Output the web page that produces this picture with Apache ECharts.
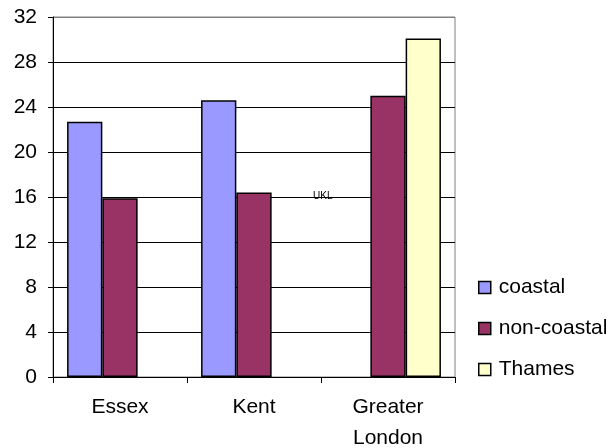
<!DOCTYPE html>
<html><head><meta charset="utf-8">
<script src="https://cdn.jsdelivr.net/npm/echarts@6/dist/echarts.min.js"></script>
<style>html,body{margin:0;padding:0;background:#fff}#c{width:614px;height:448px}</style>
</head><body><div id="c"></div>
<script>
const categories = ['Essex', 'Kent', 'Greater\nLondon'];
const coastal = [22.7, 24.6, null];
const nonCoastal = [15.9, 16.4, 25.0];
const thames = [null, null, 30.1];
const yTicks = [0, 4, 8, 12, 16, 20, 24, 28, 32];
const seriesNames = ['coastal', 'non-coastal', 'Thames'];
const noteText = 'UKL';

const chart = echarts.init(document.getElementById('c'), null, {renderer: 'canvas'});
const font = 'Liberation Sans, Arial, sans-serif';
const barStyle = c => ({color: c, borderColor: '#000', borderWidth: 1.5});
const splitColors = yTicks.map((v, i) => i === yTicks.length - 1 ? '#808080' : '#000');
chart.setOption({
  animation: false,
  backgroundColor: '#fff',
  grid: {left: 53, right: 159, top: 17, bottom: 71, show: true, borderColor: '#808080', borderWidth: 1,
         backgroundColor: 'transparent', containLabel: false, outerBoundsMode: 'none'},
  legend: {
    orient: 'vertical', left: 473, top: 272, itemGap: 20, itemWidth: 12, itemHeight: 12,
    textStyle: {fontFamily: font, fontSize: 21, color: '#000', padding: [0, 0, 0, 3]},
    itemStyle: {borderColor: '#000', borderWidth: 1.5},
    data: seriesNames.map(n => ({name: n, icon: 'rect'}))
  },
  xAxis: {
    type: 'category', data: categories,
    axisLine: {lineStyle: {color: '#000', width: 1}},
    axisTick: {show: true, length: 6, alignWithLabel: false, lineStyle: {color: '#000'}},
    axisLabel: {fontFamily: font, fontSize: 21, color: '#000', lineHeight: 31, margin: 15, interval: 0}
  },
  yAxis: {
    type: 'value', min: 0, max: 32, interval: 4,
    axisLine: {show: true, lineStyle: {color: '#000', width: 1}},
    axisTick: {show: true, length: 5, lineStyle: {color: '#000'}},
    axisLabel: {fontFamily: font, fontSize: 21, color: '#000', margin: 16},
    splitLine: {show: true, lineStyle: {color: splitColors, width: 1}}
  },
  series: [
    {name: seriesNames[0], type: 'bar', data: coastal, itemStyle: barStyle('#9999FF'), barGap: '0%', barCategoryGap: '21%'},
    {name: seriesNames[1], type: 'bar', data: nonCoastal, itemStyle: barStyle('#993366'), barGap: '0%', barCategoryGap: '21%'},
    {name: seriesNames[2], type: 'bar', data: thames, itemStyle: barStyle('#FFFFCC'), barGap: '0%', barCategoryGap: '21%'}
  ],
  graphic: [{
    type: 'text', left: 313, top: 191,
    style: {text: noteText, fontFamily: font, fontSize: 10, fill: '#000'}
  }]
});
</script></body></html>
